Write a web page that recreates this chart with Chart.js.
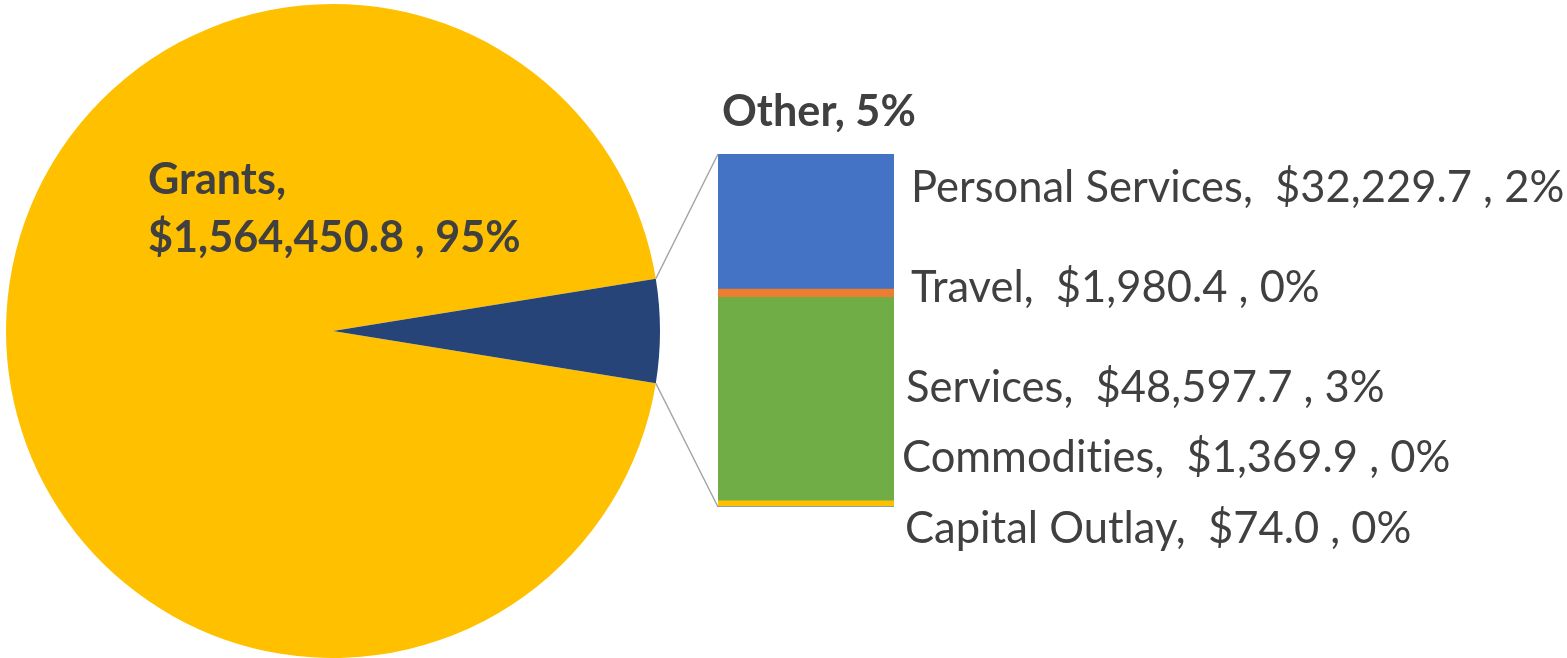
<!DOCTYPE html>
<html>
<head>
<meta charset="utf-8">
<script src="https://cdn.jsdelivr.net/npm/chart.js@4"></script>
<style>
  html, body { margin: 0; padding: 0; background: #ffffff; }
  #wrap { position: relative; width: 1567px; height: 658px; overflow: hidden; }
  canvas { position: absolute; left: 0; top: 0; }
</style>
</head>
<body>
<div id="wrap">
  <canvas id="pie" width="1567" height="658"></canvas>
  <canvas id="bar" width="1567" height="658"></canvas>
</div>
<script>
// ---- data ----
const mainCategory = 'Grants';
const mainValue = 1564450.8;
const otherLabel = 'Other';
const otherCategories = ['Personal Services', 'Travel', 'Services', 'Commodities', 'Capital Outlay'];
const otherValues = [32229.7, 1980.4, 48597.7, 1369.9, 74.0];

// ---- styles ----
const pieColors = ['#FFC000', '#264478'];
const barColors = ['#4472C4', '#ED7D31', '#70AD47', '#FFC000', '#5B9BD5'];
const textColor = '#404040';
const FONT = 'Lato, "Open Sans", sans-serif';

const otherTotal = otherValues.reduce((a, b) => a + b, 0);
const grand = mainValue + otherTotal;
const fmtMoney = v => '$' + v.toLocaleString('en-US', { minimumFractionDigits: 1, maximumFractionDigits: 1 });
const pct = v => Math.round(v / grand * 100) + '%';

const gFrac = mainValue / grand, oFrac = otherTotal / grand;
const rotation = 90 - 360 * gFrac - 180 * oFrac;

Chart.defaults.animation = false;

function noLig(ctx) { if ('letterSpacing' in ctx) ctx.letterSpacing = '0.01px'; }

const pieChart = new Chart(document.getElementById('pie'), {
  type: 'pie',
  data: {
    labels: [mainCategory, otherLabel],
    datasets: [{ data: [mainValue, otherTotal], backgroundColor: pieColors, borderWidth: 0 }]
  },
  options: {
    responsive: false,
    rotation: rotation,
    layout: { padding: { left: 6, right: 907, top: 4, bottom: 0 } },
    plugins: { legend: { display: false }, tooltip: { enabled: false } }
  },
  plugins: [{
    id: 'pieLabel',
    afterDraw(chart) {
      const ctx = chart.ctx;
      ctx.save();
      noLig(ctx);
      ctx.fillStyle = textColor;
      ctx.font = 'bold 43.2px ' + FONT;
      ctx.textBaseline = 'alphabetic';
      ctx.fillText(mainCategory + ',', 148, 194);
      ctx.fillText(fmtMoney(mainValue) + ' , ' + pct(mainValue), 148, 252);
      ctx.restore();
    }
  }]
});

// stacked bar: bottom to top order
const stackOrder = otherCategories.map((c, i) => i).reverse();
const barChart = new Chart(document.getElementById('bar'), {
  type: 'bar',
  data: {
    labels: [otherLabel],
    datasets: stackOrder.map(i => ({
      label: otherCategories[i],
      data: [otherValues[i]],
      backgroundColor: barColors[i],
      borderWidth: 0,
      barPercentage: 1,
      categoryPercentage: 1
    }))
  },
  options: {
    responsive: false,
    layout: { padding: { left: 718, right: 673, top: 154, bottom: 151 } },
    scales: {
      x: { stacked: true, display: false },
      y: { stacked: true, display: false, min: 0, max: otherTotal }
    },
    plugins: { legend: { display: false }, tooltip: { enabled: false } }
  },
  plugins: [{
    id: 'connectorsAndLabels',
    afterDraw(chart) {
      const ctx = chart.ctx;
      const ca = chart.chartArea;
      const arc = pieChart.getDatasetMeta(0).data[1];
      const r = arc.outerRadius;
      const p1 = { x: arc.x + r * Math.cos(arc.startAngle), y: arc.y + r * Math.sin(arc.startAngle) };
      const p2 = { x: arc.x + r * Math.cos(arc.endAngle), y: arc.y + r * Math.sin(arc.endAngle) };
      ctx.save();
      ctx.strokeStyle = '#A5A5A5';
      ctx.lineWidth = 1.5;
      ctx.beginPath();
      ctx.moveTo(p1.x, p1.y); ctx.lineTo(ca.left, ca.top);
      ctx.moveTo(p2.x, p2.y); ctx.lineTo(ca.left, ca.bottom);
      ctx.stroke();

      noLig(ctx);
      ctx.fillStyle = textColor;
      ctx.textBaseline = 'alphabetic';
      ctx.font = 'bold 43.2px ' + FONT;
      ctx.fillText(otherLabel + ', ' + pct(otherTotal), 722, 126);

      ctx.font = '43.5px ' + FONT;
      const pos = [[911, 202], [911, 302], [906, 402], [902, 472], [905, 543]];
      otherCategories.forEach((c, i) => {
        ctx.fillText(c + ',  ' + fmtMoney(otherValues[i]) + ' , ' + pct(otherValues[i]), pos[i][0], pos[i][1]);
      });
      ctx.restore();
    }
  }]
});
</script>
</body>
</html>
